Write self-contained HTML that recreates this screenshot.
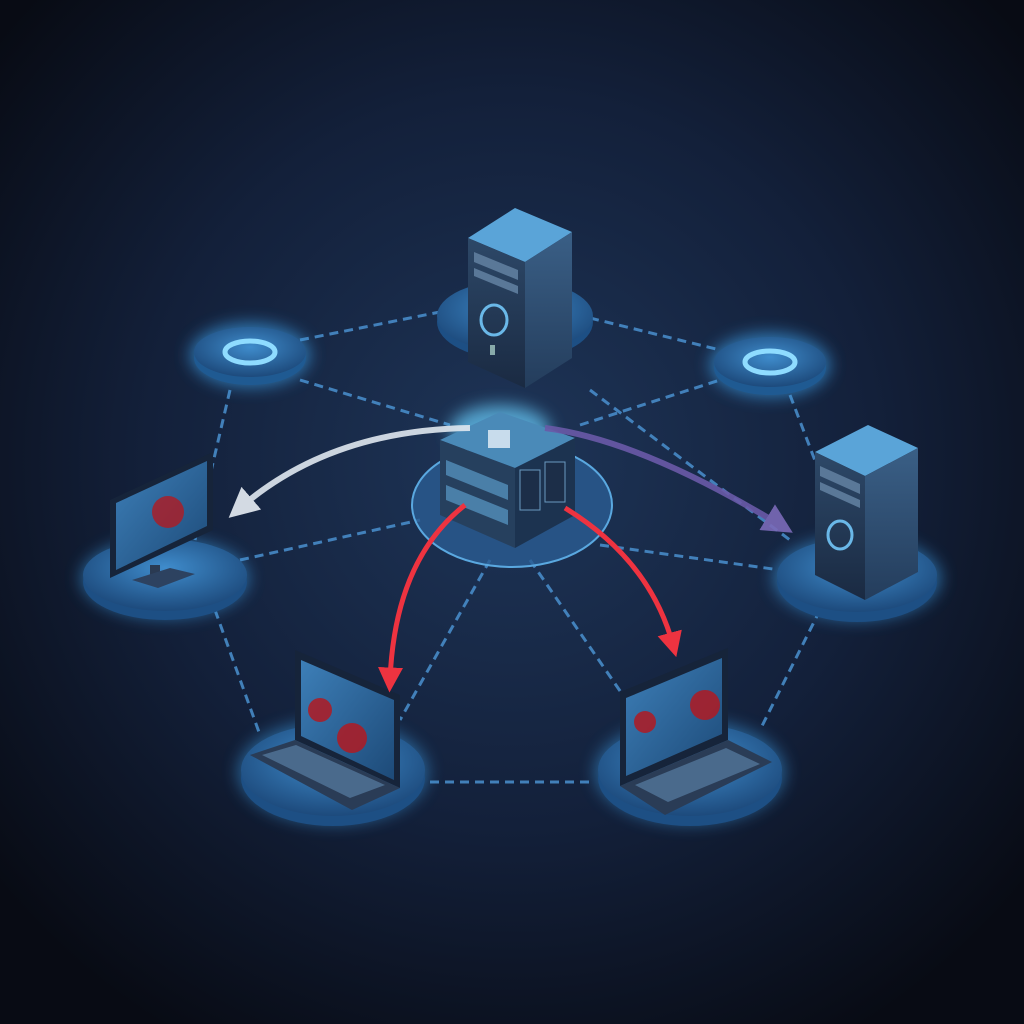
<!DOCTYPE html>
<html><head><meta charset="utf-8"><style>
html,body{margin:0;padding:0;background:#0a0e18;}
svg{display:block}
</style></head><body>
<svg width="1024" height="1024" viewBox="0 0 1024 1024" xmlns="http://www.w3.org/2000/svg">
<defs>
<radialGradient id="bg" cx="50%" cy="45%" r="65%">
<stop offset="0" stop-color="#1e3558"/><stop offset="0.55" stop-color="#13203a"/><stop offset="1" stop-color="#080b14"/>
</radialGradient>
<radialGradient id="plat" cx="50%" cy="40%" r="60%">
<stop offset="0" stop-color="#3f8ccc"/><stop offset="1" stop-color="#1d4a7c"/>
</radialGradient>
<linearGradient id="towerF" x1="0" x2="0" y1="0" y2="1"><stop offset="0" stop-color="#2d4868"/><stop offset="1" stop-color="#1a2a42"/></linearGradient>
<linearGradient id="towerS" x1="0" x2="0" y1="0" y2="1"><stop offset="0" stop-color="#3a5f86"/><stop offset="1" stop-color="#243d5c"/></linearGradient>
<linearGradient id="scr" x1="0" x2="1" y1="0" y2="1"><stop offset="0" stop-color="#3d7fb8"/><stop offset="1" stop-color="#1d4a78"/></linearGradient>
<filter id="glow" x="-50%" y="-50%" width="200%" height="200%"><feGaussianBlur stdDeviation="8"/></filter>
<marker id="ar" viewBox="0 0 10 10" refX="5" refY="5" markerWidth="5" markerHeight="5" orient="auto"><path d="M0,0 L10,5 L0,10 z" fill="#ee3340"/></marker>
<marker id="aw" viewBox="0 0 10 10" refX="5" refY="5" markerWidth="5" markerHeight="5" orient="auto"><path d="M0,0 L10,5 L0,10 z" fill="#e8eef5"/></marker>
<marker id="ap" viewBox="0 0 10 10" refX="5" refY="5" markerWidth="5" markerHeight="5" orient="auto"><path d="M0,0 L10,5 L0,10 z" fill="#7a6ab8"/></marker>
</defs>
<rect width="1024" height="1024" fill="url(#bg)"/>

<!-- dashed connections -->
<g stroke="#4a90cf" stroke-width="3" stroke-dasharray="9 6" fill="none" opacity="0.85">
<line x1="300" y1="340" x2="440" y2="312"/>
<line x1="590" y1="318" x2="720" y2="350"/>
<line x1="300" y1="380" x2="450" y2="425"/>
<line x1="580" y1="425" x2="720" y2="380"/>
<line x1="230" y1="390" x2="195" y2="540"/>
<line x1="790" y1="395" x2="830" y2="500"/>
<line x1="240" y1="560" x2="420" y2="520"/>
<line x1="600" y1="545" x2="780" y2="570"/>
<line x1="215" y1="610" x2="260" y2="735"/>
<line x1="820" y1="610" x2="760" y2="730"/>
<line x1="490" y1="560" x2="400" y2="720"/>
<line x1="530" y1="560" x2="640" y2="720"/>
<line x1="430" y1="782" x2="595" y2="782"/>
<line x1="590" y1="390" x2="790" y2="540"/>
</g>

<!-- ring nodes -->
<g>
<ellipse cx="250" cy="355" rx="60" ry="32" fill="#3a9ae0" filter="url(#glow)" opacity="0.7"/>
<ellipse cx="250" cy="358" rx="56" ry="27" fill="#1f5a92"/>
<ellipse cx="250" cy="352" rx="56" ry="25" fill="url(#plat)"/>
<ellipse cx="250" cy="352" rx="25" ry="11" fill="none" stroke="#8fdcff" stroke-width="5"/>
<ellipse cx="770" cy="365" rx="60" ry="32" fill="#3a9ae0" filter="url(#glow)" opacity="0.7"/>
<ellipse cx="770" cy="368" rx="56" ry="27" fill="#1f5a92"/>
<ellipse cx="770" cy="362" rx="56" ry="25" fill="url(#plat)"/>
<ellipse cx="770" cy="362" rx="25" ry="11" fill="none" stroke="#8fdcff" stroke-width="5"/>
</g>

<!-- top server -->
<g>
<ellipse cx="515" cy="322" rx="78" ry="38" fill="#1d4f84"/>
<ellipse cx="515" cy="316" rx="78" ry="36" fill="url(#plat)"/>
<polygon points="468,238 515,208 572,232 525,262" fill="#5aa4d8"/>
<polygon points="468,238 525,262 525,388 468,362" fill="url(#towerF)"/>
<polygon points="525,262 572,232 572,358 525,388" fill="url(#towerS)"/>
<polygon points="474,252 518,270 518,280 474,262" fill="#5a7898"/>
<polygon points="474,268 518,286 518,294 474,276" fill="#5a7898"/>
<ellipse cx="494" cy="320" rx="13" ry="15" fill="none" stroke="#6ab8e8" stroke-width="3"/>
<rect x="490" y="345" width="5" height="10" fill="#8aa"/>
</g>

<!-- left monitor -->
<g>
<ellipse cx="165" cy="578" rx="84" ry="40" fill="#3a9ae0" filter="url(#glow)" opacity="0.6"/>
<ellipse cx="165" cy="582" rx="82" ry="38" fill="#1d4f84"/>
<ellipse cx="165" cy="575" rx="82" ry="36" fill="url(#plat)"/>
<polygon points="110,500 213,452 213,530 110,578" fill="#16243a"/>
<polygon points="116,503 207,461 207,526 116,570" fill="url(#scr)"/>
<circle cx="168" cy="512" r="16" fill="#b01a22" opacity="0.8"/>
<rect x="150" y="565" width="10" height="14" fill="#2a3a52"/>
<polygon points="132,580 170,568 195,574 158,588" fill="#2d4260"/>
</g>

<!-- right server -->
<g>
<ellipse cx="857" cy="578" rx="84" ry="42" fill="#3a9ae0" filter="url(#glow)" opacity="0.6"/>
<ellipse cx="857" cy="582" rx="80" ry="40" fill="#1d4f84"/>
<ellipse cx="857" cy="575" rx="80" ry="37" fill="url(#plat)"/>
<polygon points="815,452 868,425 918,448 865,476" fill="#5aa4d8"/>
<polygon points="815,452 865,476 865,600 815,575" fill="url(#towerF)"/>
<polygon points="865,476 918,448 918,572 865,600" fill="url(#towerS)"/>
<polygon points="820,466 860,484 860,494 820,476" fill="#5a7898"/>
<polygon points="820,482 860,500 860,508 820,490" fill="#5a7898"/>
<ellipse cx="840" cy="535" rx="12" ry="14" fill="none" stroke="#6ab8e8" stroke-width="3"/>
</g>

<!-- central cube -->
<g>
<ellipse cx="512" cy="505" rx="100" ry="62" fill="#2a5c92" opacity="0.8"/>
<ellipse cx="512" cy="505" rx="100" ry="62" fill="none" stroke="#5aa8e0" stroke-width="2"/>
<ellipse cx="500" cy="430" rx="50" ry="25" fill="#6ad0ff" filter="url(#glow)" opacity="0.7"/>
<polygon points="440,440 500,412 575,438 515,468" fill="#4a8ab8"/>
<polygon points="440,440 515,468 515,548 440,515" fill="#26405e"/>
<polygon points="515,468 575,438 575,515 515,548" fill="#1c3350"/>
<polygon points="446,460 508,485 508,500 446,475" fill="#4a7fa8"/>
<polygon points="446,485 508,510 508,525 446,500" fill="#4a7fa8"/>
<rect x="488" y="430" width="22" height="18" fill="#c8dcec"/>
<rect x="520" y="470" width="20" height="40" fill="#1c2e48" stroke="#6a9ac0"/>
<rect x="545" y="462" width="20" height="40" fill="#1c2e48" stroke="#6a9ac0"/>
</g>

<!-- bottom left laptop -->
<g>
<ellipse cx="333" cy="772" rx="95" ry="52" fill="#3a9ae0" filter="url(#glow)" opacity="0.55"/>
<ellipse cx="333" cy="778" rx="92" ry="48" fill="#1d4f84"/>
<ellipse cx="333" cy="770" rx="92" ry="46" fill="url(#plat)"/>
<polygon points="295,650 400,695 400,788 295,740" fill="#16243a"/>
<polygon points="301,660 394,700 394,780 301,736" fill="url(#scr)"/>
<circle cx="320" cy="710" r="12" fill="#b01a22" opacity="0.85"/>
<circle cx="352" cy="738" r="15" fill="#b01a22" opacity="0.85"/>
<polygon points="250,755 295,740 400,788 352,810" fill="#2a3c56"/>
<polygon points="262,755 296,745 385,785 350,798" fill="#4a6a8c"/>
</g>

<!-- bottom right laptop -->
<g>
<ellipse cx="690" cy="772" rx="95" ry="52" fill="#3a9ae0" filter="url(#glow)" opacity="0.55"/>
<ellipse cx="690" cy="778" rx="92" ry="48" fill="#1d4f84"/>
<ellipse cx="690" cy="770" rx="92" ry="46" fill="url(#plat)"/>
<polygon points="620,692 728,648 728,740 620,786" fill="#16243a"/>
<polygon points="626,698 722,658 722,734 626,776" fill="url(#scr)"/>
<circle cx="645" cy="722" r="11" fill="#b01a22" opacity="0.85"/>
<circle cx="705" cy="705" r="15" fill="#b01a22" opacity="0.85"/>
<polygon points="620,786 728,740 772,762 665,815" fill="#2a3c56"/>
<polygon points="635,785 726,748 760,764 668,802" fill="#4a6a8c"/>
</g>

<!-- arrows -->
<path d="M470,428 Q330,430 240,508" stroke="#e0e8f0" stroke-width="6" fill="none" marker-end="url(#aw)" opacity="0.9"/>
<path d="M545,428 Q640,440 780,525" stroke="#6a5aa8" stroke-width="6" fill="none" marker-end="url(#ap)" opacity="0.9"/>
<path d="M465,505 Q395,560 390,680" stroke="#ee3340" stroke-width="5" fill="none" marker-end="url(#ar)"/>
<path d="M565,508 Q650,560 673,645" stroke="#ee3340" stroke-width="5" fill="none" marker-end="url(#ar)"/>
</svg>
</body></html>
